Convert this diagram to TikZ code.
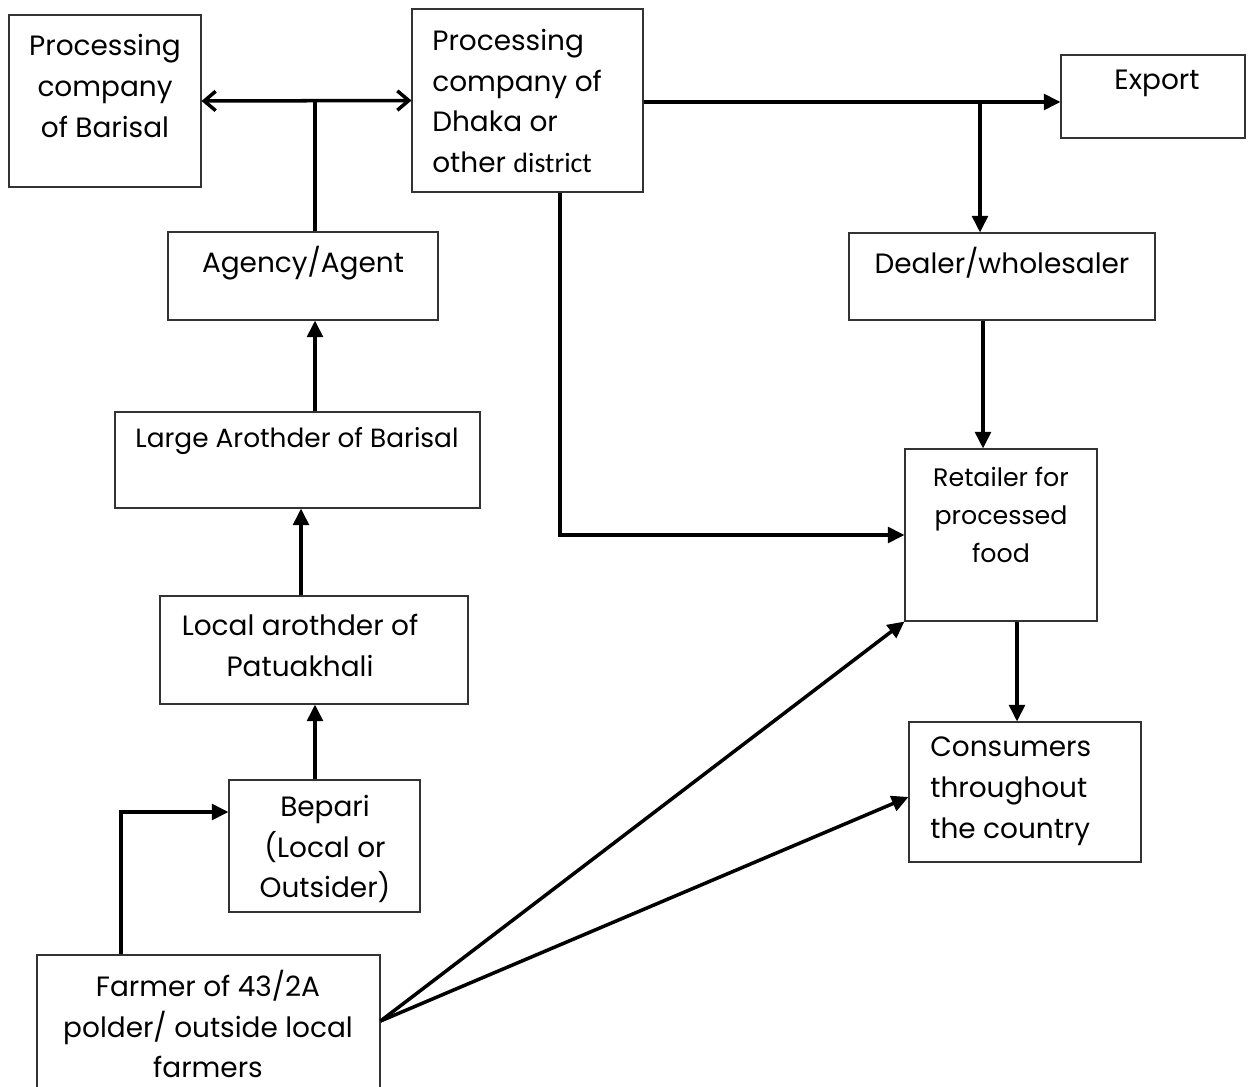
\documentclass[tikz,border=0pt]{standalone}
\usepackage{fontspec}
\setmainfont{Poppins}
\newfontfamily\calfont{Carlito}
\usetikzlibrary{arrows.meta}

\begin{document}
\begin{tikzpicture}[x=0.02cm,y=-0.02cm,
  box/.style n args={2}{draw=black!80, line width=0.6pt, inner sep=0pt,
    minimum width={#1*0.02cm}, minimum height={#2*0.02cm}},
  txt/.style={inner sep=0pt, align=center, font=\fontsize{15.9}{23.2}\selectfont},
  smalltxt/.style={inner sep=0pt, align=center, font=\fontsize{14.4}{21.5}\selectfont},
  flow/.style={line width=2pt, -{Triangle[length=9.5pt,width=9pt]}},
  link/.style={line width=2pt},
  both/.style={line width=2pt, {Straight Barb[length=6.5pt,width=11pt,line width=2pt]}-{Straight Barb[length=6.5pt,width=11pt,line width=2pt]}}]

\clip (0,0) rectangle (1253,1087);
\fill[white] (0,0) rectangle (1253,1087);

% boxes
\node[box={192}{172}] (bar) at (105,101) {};
\node[box={231}{183}] (dha) at (527.5,100.5) {};
\node[box={184}{83}]  (exp) at (1153,96.5) {};
\node[box={270}{88}]  (age) at (303,276) {};
\node[box={306}{87}]  (dea) at (1002,276.5) {};
\node[box={365}{96}]  (lar) at (297.5,460) {};
\node[box={192}{172}] (ret) at (1001,535) {};
\node[box={308}{108}] (loc) at (314,650) {};
\node[box={232}{140}] (con) at (1025,792) {};
\node[box={191}{132}] (bep) at (324.5,846) {};
\node[box={343}{145}] (far) at (208.5,1027.5) {};

% texts
\node[txt] (tbar) at (105,86) {Processing\\company\\of Barisal};
\node[txt, align=left, anchor=west] (tdha) at (432,101)
  {Processing\\company of\\Dhaka or\\other {\calfont district}};
\node[txt] (texp) at (1157,83) {Export};
\node[txt] (tage) at (303,263) {Agency/Agent};
\node[txt] (tdea) at (1002,263) {Dealer/wholesaler};
\node[smalltxt, font=\fontsize{15}{21.5}\selectfont] (tlar) at (297,441) {Large Arothder of Barisal};
\node[smalltxt] (tret) at (1001,515) {Retailer for\\processed\\food};
\node[txt] (tloc) at (300,645.5) {Local arothder of\\Patuakhali};
\node[txt, align=left, anchor=west] (tcon) at (930,791) {Consumers\\throughout\\the country};
\node[txt] (tbep) at (325,849) {Bepari\\(Local or\\Outsider)};
\node[txt] (tfar) at (208,1024) {Farmer of 43/2A\\polder/ outside local\\farmers};

% guide positions for connectors
\coordinate (vA) at (315,0);
\coordinate (vB) at (301,0);
\coordinate (vD) at (980,0);
\coordinate (vE) at (560,0);
\coordinate (vF) at (983,0);
\coordinate (vH) at (1017,0);
\coordinate (vG) at (121,0);
\coordinate (hY) at (0,102);
\coordinate (hB) at (0,812);
\coordinate (hC) at (0,1021);
\coordinate (hD) at (0,797);
\coordinate (fr) at (far.east |- hC);

% connectors
\draw[both] (bar.east) -- (dha.west);
\draw[link] (age.north -| vA) -- (vA |- bar.east);
\draw[flow] (dha.east |- hY) -- (exp.west |- hY);
\draw[flow] (vD |- hY) -- (dea.north -| vD);
\draw[flow] (dha.south -| vE) |- (ret.west);
\draw[flow] (dea.south -| vF) -- (ret.north -| vF);
\draw[flow] (ret.south -| vH) -- (con.north -| vH);
\draw[flow] (lar.north -| vA) -- (age.south -| vA);
\draw[flow] (loc.north -| vB) -- (lar.south -| vB);
\draw[flow] (bep.north -| vA) -- (loc.south -| vA);
\draw[flow] (far.north -| vG) |- (bep.west |- hB);
\draw[flow] (fr) -- (ret.south west);
\draw[flow] (fr) -- (con.west |- hD);
\end{tikzpicture}
\end{document}
